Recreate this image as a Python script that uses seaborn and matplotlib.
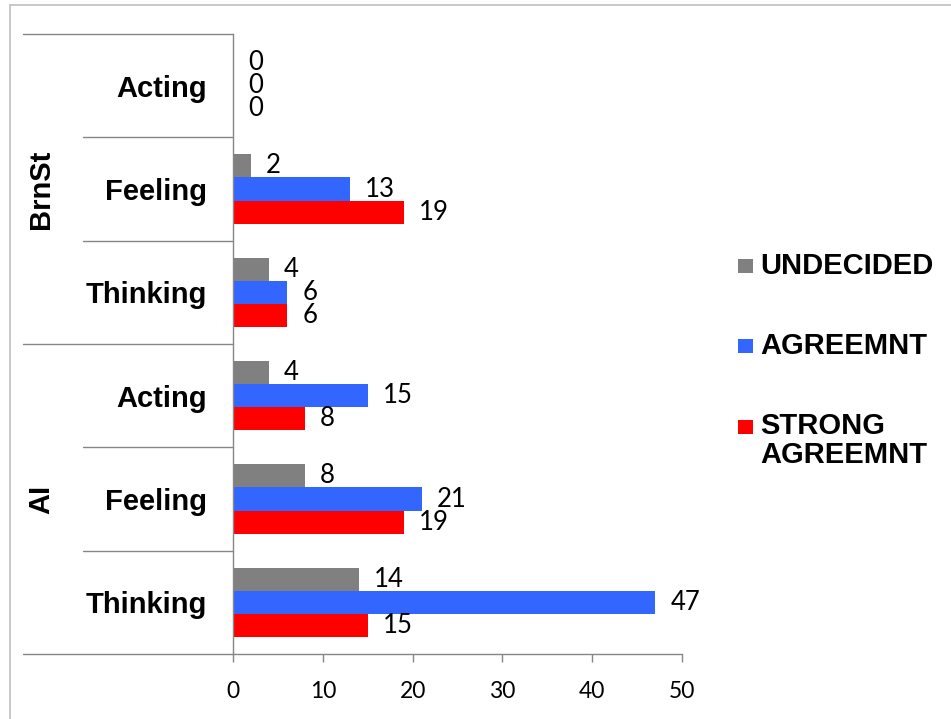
import matplotlib
matplotlib.use("Agg")
import matplotlib.pyplot as plt
from matplotlib.patches import Rectangle
from matplotlib.lines import Line2D
from matplotlib.transforms import blended_transform_factory
import seaborn as sns
import pandas as pd

# ---- data ----
groups = ["BrnSt", "BrnSt", "BrnSt", "AI", "AI", "AI"]
categories = ["Acting", "Feeling", "Thinking", "Acting", "Feeling", "Thinking"]
series = ["UNDECIDED", "AGREEMNT", "STRONG AGREEMNT"]
undecided = [0, 2, 4, 4, 8, 14]
agreemnt = [0, 13, 6, 15, 21, 47]
strong_agreemnt = [0, 19, 6, 8, 19, 15]
legend_labels = ["UNDECIDED", "AGREEMNT", "STRONG\nAGREEMNT"]
x_ticks = [0, 10, 20, 30, 40, 50]
colors = ["#808080", "#3366FF", "#FF0000"]

keys = [f"{g}|{c}" for g, c in zip(groups, categories)]
rows = []
for s, vals in zip(series, [undecided, agreemnt, strong_agreemnt]):
    for k, v in zip(keys, vals):
        rows.append({"key": k, "series": s, "value": v})
df = pd.DataFrame(rows)

sns.set_theme(style="white")
plt.rcParams["font.family"] = ["Liberation Sans", "DejaVu Sans"]
plt.rcParams["text.color"] = "black"
plt.rcParams["xtick.labelcolor"] = "black"
plt.rcParams["ytick.labelcolor"] = "black"

W, H = 951, 719
fig = plt.figure(figsize=(W / 100, H / 100), dpi=100)
ax = fig.add_axes([233 / W, 1 - 654 / H, (682 - 233) / W, (654 - 34) / H])

sns.barplot(data=df, y="key", x="value", hue="series", order=keys,
            hue_order=series, palette=colors, orient="h", width=0.67,
            saturation=1, errorbar=None, linewidth=0, legend=False, ax=ax)

for cont in ax.containers:
    ax.bar_label(cont, fmt="%g", padding=11, fontsize=18.5,
                 fontfamily=["Lato", "DejaVu Sans"], color="black")

ax.set_xlim(0, 50)
ax.set_ylim(len(keys) - 0.5, -0.5)
ax.set_xticks(x_ticks)
ax.set_xticklabels([str(t) for t in x_ticks], fontsize=16.5,
                   fontfamily=["Lato", "DejaVu Sans"], color="black")
ax.set_yticks(range(len(keys)))
ax.set_yticklabels(categories, fontsize=21, fontweight="bold", color="black")
ax.set_xlabel("")
ax.set_ylabel("")

axis_color = "#868686"
for side in ["top", "right"]:
    ax.spines[side].set_visible(False)
for side in ["left", "bottom"]:
    ax.spines[side].set_color(axis_color)
    ax.spines[side].set_linewidth(1.0)
ax.tick_params(axis="y", length=0, pad=19)
ax.tick_params(axis="x", length=5.5, width=1.0, color=axis_color,
               direction="out", pad=14, bottom=True)

# table lines on the left
tr = blended_transform_factory(fig.transFigure, ax.transData)
for yb in [-0.5, 2.5, 5.5]:
    ax.add_line(Line2D([23 / W, 233 / W], [yb, yb], transform=tr,
                       color=axis_color, lw=1.0, clip_on=False))
for yb in [0.5, 1.5, 3.5, 4.5]:
    ax.add_line(Line2D([83 / W, 233 / W], [yb, yb], transform=tr,
                       color=axis_color, lw=1.0, clip_on=False))

# group labels
ax.text(41 / W, 1.0, "BrnSt", transform=tr, rotation=90, ha="center",
        va="center", fontsize=21, fontweight="bold", color="black")
ax.text(41 / W, 4.0, "AI", transform=tr, rotation=90, ha="center",
        va="center", fontsize=21, fontweight="bold", color="black")

# outer chart border
fig.add_artist(Line2D([10 / W, 1.0], [1 - 5 / H, 1 - 5 / H],
                      transform=fig.transFigure, color="#BFBFBF", lw=1.2))
fig.add_artist(Line2D([10 / W, 10 / W], [0, 1 - 5 / H],
                      transform=fig.transFigure, color="#BFBFBF", lw=1.2))

# legend
leg_y = [266, 346, 427]
for lab, col, yc in zip(legend_labels, colors, leg_y):
    fig.add_artist(Rectangle((738 / W, 1 - (yc + 7) / H), 15 / W, 14 / H,
                             transform=fig.transFigure, facecolor=col,
                             edgecolor="none"))
    if "\n" in lab:
        fig.text(760 / W, 1 - (yc - 15) / H, lab, ha="left", va="top",
                 fontsize=21, fontweight="bold", linespacing=1.05,
                 color="black")
    else:
        fig.text(760 / W, 1 - yc / H, lab, ha="left", va="center",
                 fontsize=21, fontweight="bold", color="black")

fig.savefig("out.png", dpi=100)
